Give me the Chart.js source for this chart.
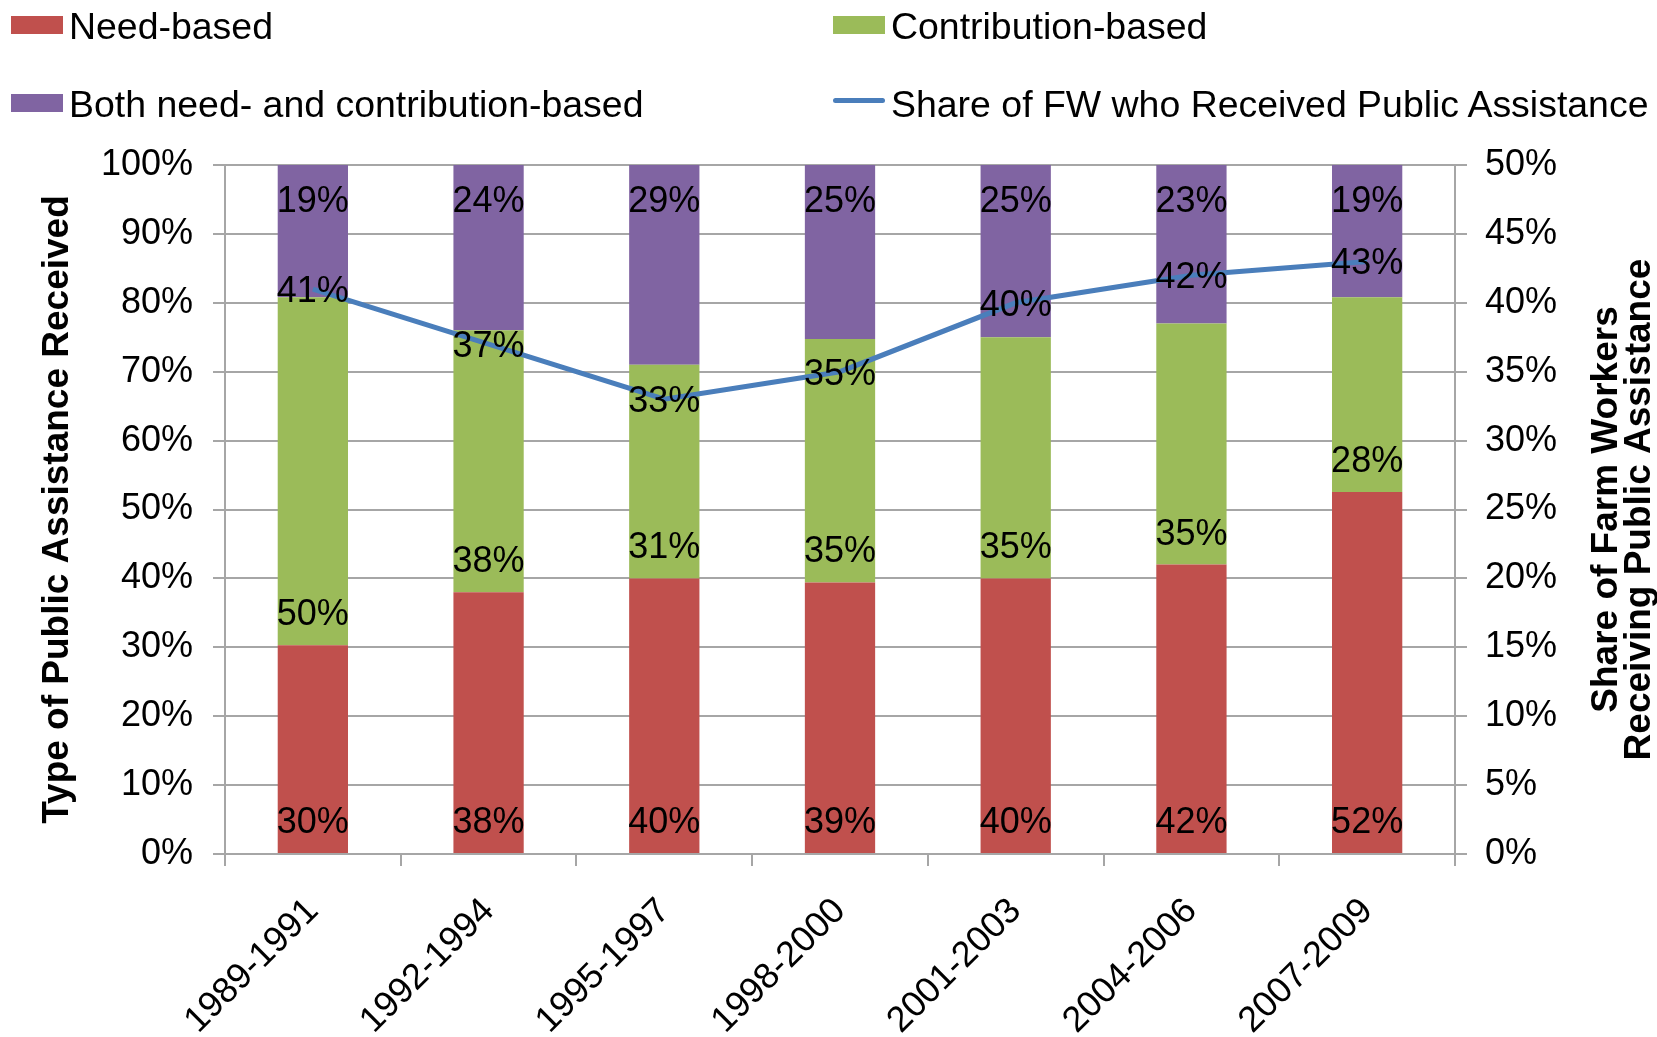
<!DOCTYPE html>
<html>
<head>
<meta charset="utf-8">
<title>Public assistance received by farm workers</title>
<script src="https://cdn.jsdelivr.net/npm/chart.js@4.4.0/dist/chart.umd.js"></script>
<style>
  html, body { margin: 0; padding: 0; background: #fff; }
  #wrap { position: relative; width: 1657px; height: 1037px; }
  #chart { position: absolute; left: 0; top: 0; }
  #legend { position: absolute; left: 0; top: 0; font-family: 'Liberation Sans', Arial, sans-serif; font-size: 36px; color: #000; }
  .item { position: absolute; height: 44px; line-height: 44px; white-space: nowrap; }
  .swatch { position: absolute; left: 0; top: 11px; width: 52px; height: 18px; }
  .swatch.line { top: 15px; height: 5px; border-radius: 3px; }
  .text { position: absolute; left: 58px; top: 0; transform: scaleX(1.04); transform-origin: left center; }
</style>
</head>
<body>
<div id="wrap">
  <canvas id="chart" width="1657" height="1037"></canvas>
  <div id="legend"></div>
</div>
<script>
const periods = ['1989-1991', '1992-1994', '1995-1997', '1998-2000', '2001-2003', '2004-2006', '2007-2009']
const needBased = [30, 38, 40, 39, 40, 42, 52]
const contributionBased = [50, 38, 31, 35, 35, 35, 28]
const bothBased = [19, 24, 29, 25, 25, 23, 19]
const shareReceiving = [41, 37, 33, 35, 40, 42, 43]
const typeTicks = [0, 10, 20, 30, 40, 50, 60, 70, 80, 90, 100]
const shareTicks = [0, 5, 10, 15, 20, 25, 30, 35, 40, 45, 50]
const rightTitleLines = ['Share of Farm Workers', 'Receiving Public Assistance']

const FONT = "'Liberation Sans', Arial, sans-serif"
const GRID = '#a6a6a6'

Chart.defaults.font.family = FONT
Chart.defaults.font.size = 36
Chart.defaults.color = '#000'

// bars are a 100% stack: each segment is its share of the period total
const totals = periods.map((_, i) => needBased[i] + contributionBased[i] + bothBased[i])
const asShare = values => values.map((v, i) => v / totals[i] * 100)
const pct = v => v + '%'
const useTicks = list => scale => { scale.ticks = list.map(value => ({ value })) }

// value labels: 'base' = inside the bottom of the segment, 'end' = inside the top, 'point' = on the line point
const valueLabels = {
  id: 'valueLabels',
  afterDatasetsDraw(chart) {
    const { ctx } = chart
    const half = 36 * 0.358
    ctx.save()
    ctx.font = `36px ${FONT}`
    ctx.fillStyle = '#000'
    ctx.textAlign = 'center'
    ctx.textBaseline = 'alphabetic'
    chart.data.datasets.forEach((ds, di) => {
      chart.getDatasetMeta(di).data.forEach((el, i) => {
        let y = el.y
        if (ds.labelAt === 'base') y = el.base - 33
        else if (ds.labelAt === 'end') y = el.y + 34
        ctx.fillText(pct(ds.shown[i]), el.x, y + half)
      })
    })
    ctx.restore()
  }
}

// secondary axis title, two lines reading bottom to top
const rightTitle = {
  id: 'rightTitle',
  afterDraw(chart) {
    const { ctx, chartArea } = chart
    const axis = chart.scales.y2
    const cy = (chartArea.top + chartArea.bottom) / 2
    ctx.save()
    ctx.font = `bold 37px ${FONT}`
    ctx.fillStyle = '#000'
    ctx.textAlign = 'center'
    ctx.textBaseline = 'alphabetic'
    rightTitleLines.forEach((line, i) => {
      ctx.save()
      ctx.translate(axis.right - 40 + i * 33, cy)
      ctx.rotate(-Math.PI / 2)
      ctx.fillText(line, 0, 0)
      ctx.restore()
    })
    ctx.restore()
  }
}

const chart = new Chart(document.getElementById('chart'), {
  type: 'bar',
  data: {
    labels: periods,
    datasets: [
      { label: 'Need-based', data: asShare(needBased), shown: needBased, labelAt: 'base',
        backgroundColor: '#C0504D', yAxisID: 'y', order: 1 },
      { label: 'Contribution-based', data: asShare(contributionBased), shown: contributionBased, labelAt: 'base',
        backgroundColor: '#9BBB59', yAxisID: 'y', order: 1 },
      { label: 'Both need- and contribution-based', data: asShare(bothBased), shown: bothBased, labelAt: 'end',
        backgroundColor: '#8064A2', yAxisID: 'y', order: 1 },
      { type: 'line', label: 'Share of FW who Received Public Assistance', data: shareReceiving, shown: shareReceiving,
        labelAt: 'point', borderColor: '#4A7EBB', backgroundColor: '#4A7EBB', borderWidth: 5,
        pointRadius: 0, tension: 0, yAxisID: 'y2', order: 0 }
    ]
  },
  options: {
    responsive: false,
    animation: false,
    layout: { padding: { top: 165, left: 0, right: 0, bottom: 0 } },
    datasets: { bar: { barPercentage: 0.4, categoryPercentage: 1 } },
    plugins: { legend: { display: false }, tooltip: { enabled: false } },
    scales: {
      x: {
        stacked: true,
        grid: { drawOnChartArea: false, tickLength: 12, color: GRID, lineWidth: 2 },
        border: { color: GRID, width: 2 },
        ticks: { minRotation: 45, maxRotation: 45, autoSkip: false, padding: 24 },
        afterFit: scale => { scale.height = 183 }
      },
      y: {
        stacked: true, position: 'left', min: 0, max: 100,
        afterBuildTicks: useTicks(typeTicks),
        grid: { tickLength: 12, color: GRID, lineWidth: 2 },
        border: { color: GRID, width: 2 },
        ticks: { padding: 20, callback: pct },
        title: { display: true, text: 'Type of Public Assistance Received',
          font: { size: 37, weight: 'bold' }, padding: { top: 36, bottom: 0 } },
        afterFit: scale => { scale.width = 225 }
      },
      y2: {
        position: 'right', min: 0, max: 50,
        afterBuildTicks: useTicks(shareTicks),
        grid: { drawOnChartArea: false, tickLength: 12, color: GRID, lineWidth: 2 },
        border: { color: GRID, width: 2 },
        ticks: { padding: 18, callback: pct },
        afterFit: scale => { scale.width = 202 }
      }
    }
  },
  plugins: [valueLabels, rightTitle]
})

// legend laid out in two columns above the plot
const legendCols = [11, 833]
const legendRows = [5, 83]
const legend = document.getElementById('legend')
chart.data.datasets.forEach((ds, i) => {
  const item = document.createElement('div')
  item.className = 'item'
  item.style.left = legendCols[i % 2] + 'px'
  item.style.top = legendRows[Math.floor(i / 2)] + 'px'
  const sw = document.createElement('span')
  sw.className = ds.type === 'line' ? 'swatch line' : 'swatch'
  sw.style.background = ds.type === 'line' ? ds.borderColor : ds.backgroundColor
  const txt = document.createElement('span')
  txt.className = 'text'
  txt.textContent = ds.label
  item.append(sw, txt)
  legend.appendChild(item)
})
</script>
</body>
</html>
